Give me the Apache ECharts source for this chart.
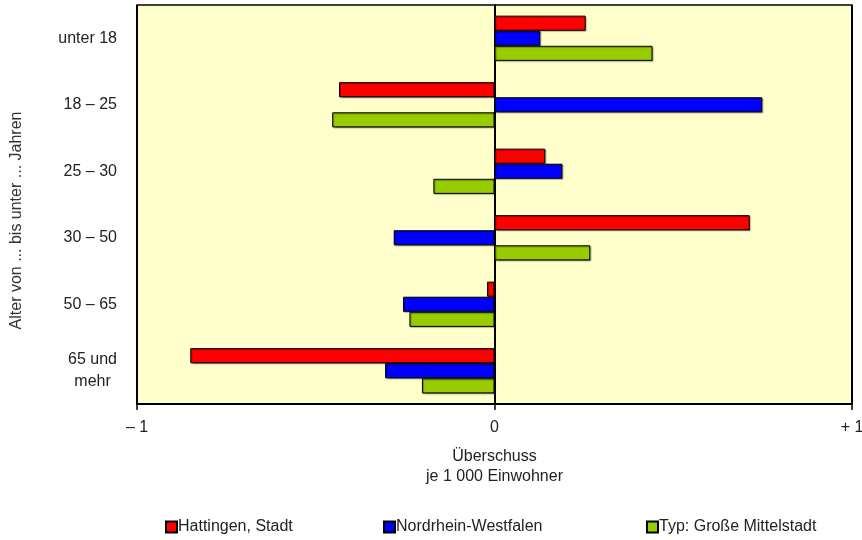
<!DOCTYPE html>
<html>
<head>
<meta charset="utf-8">
<script src="https://cdn.jsdelivr.net/npm/echarts@6/dist/echarts.min.js"></script>
<style>
  html, body { margin: 0; padding: 0; background: #ffffff; }
  #chart { width: 862px; height: 540px; }
</style>
</head>
<body>
<div id="chart"></div>
<script>
// Age groups, top to bottom
const ageGroups = ['unter 18', '18 – 25', '25 – 30', '30 – 50', '50 – 65', '65 und\nmehr'];

// Migration surplus per 1 000 inhabitants
const hattingen = [0.255, -0.435, 0.142, 0.714, -0.021, -0.851];
const nrw = [0.128, 0.749, 0.190, -0.282, -0.256, -0.306];
const mittelstadt = [0.442, -0.454, -0.171, 0.268, -0.238, -0.203];

const seriesNames = ['Hattingen, Stadt', 'Nordrhein-Westfalen', 'Typ: Große Mittelstadt'];
const seriesColors = ['#ff0000', '#0000ff', '#99cc00'];

const xTickLabels = { '-1': '– 1', '0': '0', '1': '+ 1' };

const font = '"Liberation Sans", Arial, sans-serif';
const fontSize = 16;
const textColor = '#222222';

const chart = echarts.init(document.getElementById('chart'), null, { renderer: 'canvas' });

function barSeries(name, data, color) {
  return {
    name: name,
    type: 'bar',
    data: data,
    barGap: '0%',
    barCategoryGap: '32%',
    itemStyle: {
      color: color,
      borderColor: '#000000',
      borderWidth: 1,
      shadowColor: 'rgba(0,0,0,0.35)',
      shadowOffsetX: 1,
      shadowOffsetY: 1,
      shadowBlur: 1
    },
    emphasis: { disabled: true }
  };
}

const legendLefts = [160, 378, 641];

chart.setOption({
  animation: false,
  textStyle: { fontFamily: font },
  grid: {
    left: 137, right: 10, top: 5, bottom: 136,
    outerBoundsMode: 'none',
    containLabel: false,
    show: true,
    backgroundColor: '#ffffcc',
    borderColor: '#000000',
    borderWidth: 1.5
  },
  legend: seriesNames.map((n, i) => ({
    data: [{ name: n, icon: 'rect' }],
    left: legendLefts[i],
    top: 514,
    itemWidth: 11,
    itemHeight: 11,
    itemGap: 0,
    textStyle: { fontFamily: font, fontSize: fontSize, color: textColor, padding: [0, 0, 0, -4] },
    selectedMode: false
  })),
  xAxis: {
    type: 'value',
    min: -1,
    max: 1,
    interval: 1,
    axisLine: { show: true, lineStyle: { color: '#000000', width: 2 } },
    axisTick: { show: true, length: 6, lineStyle: { color: '#000000', width: 1.5 } },
    splitLine: { show: true, lineStyle: { color: '#000000', width: 2 } },
    axisLabel: {
      fontFamily: font, fontSize: fontSize, color: textColor, margin: 16,
      formatter: v => xTickLabels[String(v)]
    },
    name: 'Überschuss\nje 1 000 Einwohner',
    nameLocation: 'middle',
    nameGap: 43,
    nameTextStyle: { fontFamily: font, fontSize: fontSize, color: textColor, lineHeight: 20 }
  },
  yAxis: {
    type: 'category',
    data: ageGroups,
    inverse: true,
    axisLine: { show: true, lineStyle: { color: '#000000', width: 2 } },
    axisTick: { show: false },
    axisLabel: {
      fontFamily: font, fontSize: fontSize, color: textColor, margin: 20, lineHeight: 22,
      formatter: v => v.split('\n').map(s => '{c|' + s + '}').join('\n'),
      rich: { c: { align: 'center', fontFamily: font, fontSize: fontSize, color: textColor, lineHeight: 22 } }
    },
    name: 'Alter von ... bis unter ... Jahren',
    nameLocation: 'middle',
    nameGap: 112,
    nameTextStyle: { fontFamily: font, fontSize: fontSize, color: '#333333', padding: [0, 32, 0, 0] }
  },
  series: [
    barSeries(seriesNames[0], hattingen, seriesColors[0]),
    barSeries(seriesNames[1], nrw, seriesColors[1]),
    barSeries(seriesNames[2], mittelstadt, seriesColors[2])
  ]
});
</script>
</body>
</html>
